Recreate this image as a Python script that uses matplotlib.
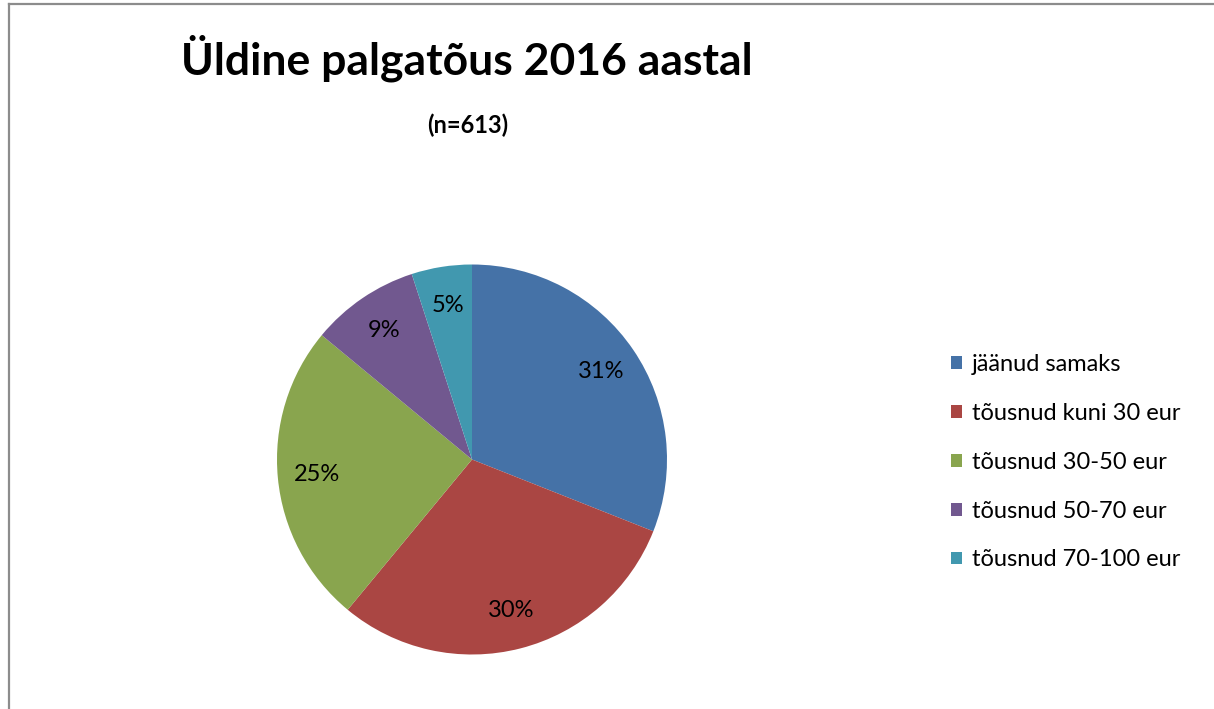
import matplotlib.pyplot as plt
from matplotlib.lines import Line2D

plt.rcParams['font.family'] = ['Lato', 'DejaVu Sans']

categories = ['jäänud samaks', 'tõusnud kuni 30 eur', 'tõusnud 30-50 eur',
              'tõusnud 50-70 eur', 'tõusnud 70-100 eur']
shares = [31, 30, 25, 9, 5]
colors = ['#4572A7', '#AA4643', '#89A54E', '#71588F', '#4198AF']

W, H = 1214, 709
fig = plt.figure(figsize=(W / 100, H / 100), dpi=100)

# pie centre ~ (472, 459), radius ~195 px
cx, cy, r = 472, 459.5, 195
ax = fig.add_axes([(cx - r) / W, 1 - (cy + r) / H, 2 * r / W, 2 * r / H])
wedges, texts, autotexts = ax.pie(shares, colors=colors, startangle=90, counterclock=False,
                                  autopct='%d%%', pctdistance=0.8,
                                  wedgeprops=dict(linewidth=0),
                                  textprops=dict(fontsize=17, color='black'))
ax.set_xlim(-1, 1)
ax.set_ylim(-1, 1)
ax.set_aspect('auto')

fig.text(467 / W, 1 - 58 / H, 'Üldine palgatõus 2016 aastal', ha='center', va='center',
         fontsize=32, fontweight='bold')
fig.text(468 / W, 1 - 125 / H, '(n=613)', ha='center', va='center',
         fontsize=17, fontweight='bold')

leg = fig.legend(wedges, categories, loc='upper left',
                 bbox_to_anchor=(951 / W, 1 - 354 / H), frameon=False,
                 fontsize=17, handlelength=0.45, handleheight=0.45,
                 handletextpad=0.45, labelspacing=1.18, borderpad=0, borderaxespad=0)

# chart frame (left and top edges visible)
fig.add_artist(Line2D([8.5 / W, 8.5 / W], [0, 1 - 3.5 / H], color='#8c8c8c', lw=1.6,
                      transform=fig.transFigure))
fig.add_artist(Line2D([8.5 / W, 1], [1 - 3.5 / H, 1 - 3.5 / H], color='#8c8c8c', lw=1.6,
                      transform=fig.transFigure))

fig.savefig('out.png', dpi=100)
